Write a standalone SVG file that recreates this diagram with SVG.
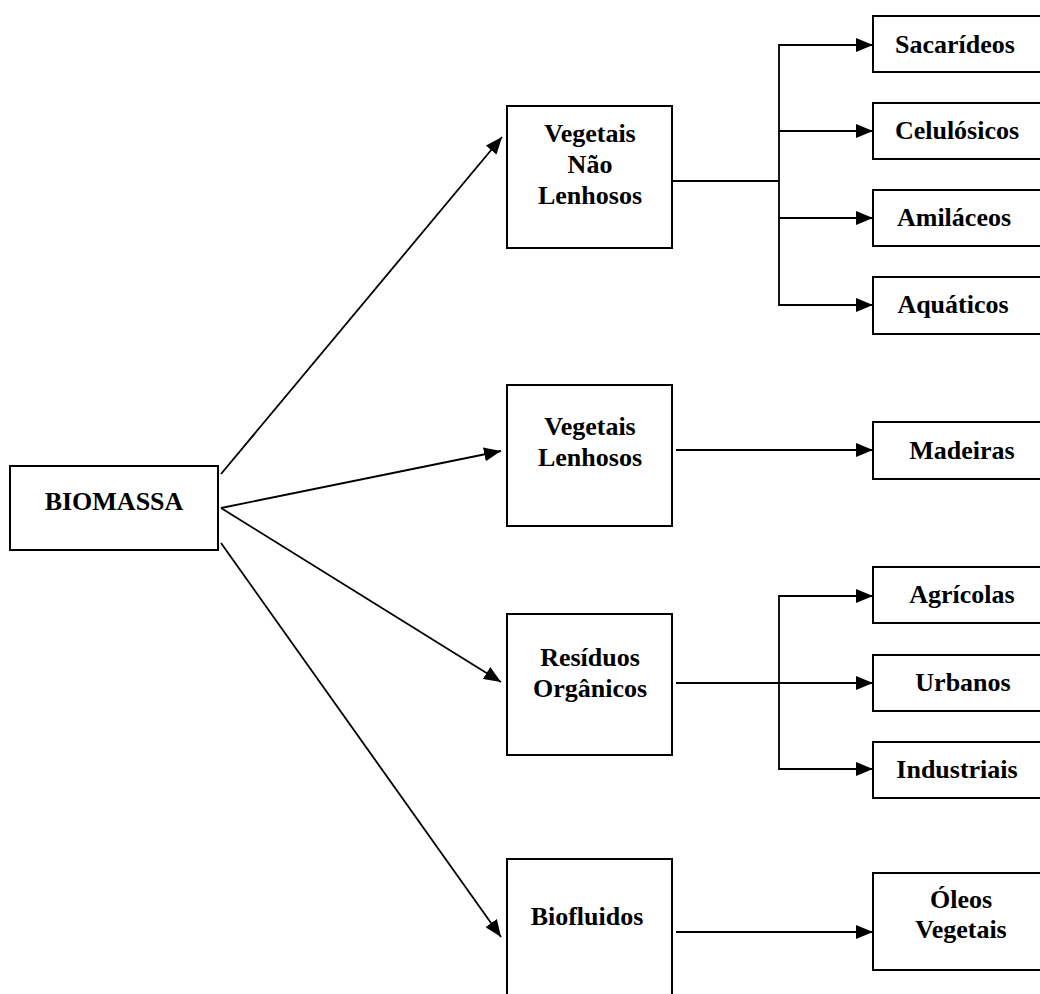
<svg xmlns="http://www.w3.org/2000/svg" width="1040" height="994" viewBox="0 0 1040 994">
<style>
.box{fill:#fff;stroke:#000;stroke-width:2}
.t{font-family:"Liberation Serif","Times New Roman",serif;font-weight:bold;font-size:26px;fill:#000;text-anchor:middle}
.ln{fill:none;stroke:#000;stroke-width:1.8}
.ar{fill:none;stroke:#000;stroke-width:1.8;marker-end:url(#ah)}
</style>
<defs>
<marker id="ah" viewBox="0 0 17 14" refX="17" refY="7" markerWidth="17" markerHeight="14" markerUnits="userSpaceOnUse" orient="auto">
<path d="M0,0 L17,7 L0,14 Z" fill="#000"/>
</marker>
</defs>
<rect width="1040" height="994" fill="#fff"/>
<g id="connectors">
<line class="ar" x1="221" y1="474" x2="502" y2="137"/>
<line class="ar" x1="221" y1="508" x2="501" y2="451"/>
<line class="ar" x1="221" y1="508" x2="501" y2="682"/>
<line class="ar" x1="221" y1="543" x2="501" y2="937"/>
<line class="ln" x1="672" y1="181" x2="779" y2="181"/>
<polyline class="ln" points="873,45 779,45 779,305 873,305"/>
<line class="ar" x1="779" y1="45" x2="873" y2="45"/>
<line class="ar" x1="779" y1="131" x2="873" y2="131"/>
<line class="ar" x1="779" y1="218" x2="873" y2="218"/>
<line class="ar" x1="779" y1="305" x2="873" y2="305"/>
<line class="ar" x1="676" y1="450" x2="873" y2="450"/>
<line class="ar" x1="676" y1="683" x2="873" y2="683"/>
<polyline class="ln" points="873,596 779,596 779,769 873,769"/>
<line class="ar" x1="779" y1="596" x2="873" y2="596"/>
<line class="ar" x1="779" y1="769" x2="873" y2="769"/>
<line class="ar" x1="676" y1="932" x2="873" y2="932"/>
</g>
<g id="biomassa"><rect class="box" x="10" y="466" width="208" height="84"/><text class="t" x="114" y="510">BIOMASSA</text></g>
<g id="vnl"><rect class="box" x="507" y="106" width="165" height="142"/><text class="t" x="590" y="142">Vegetais</text><text class="t" x="590" y="173">Não</text><text class="t" x="590" y="204">Lenhosos</text></g>
<g id="vl"><rect class="box" x="507" y="385" width="165" height="141"/><text class="t" x="590" y="435">Vegetais</text><text class="t" x="590" y="466">Lenhosos</text></g>
<g id="ro"><rect class="box" x="507" y="614" width="165" height="141"/><text class="t" x="590" y="666">Resíduos</text><text class="t" x="590" y="697">Orgânicos</text></g>
<g id="bf"><rect class="box" x="507" y="859" width="165" height="150"/><text class="t" x="587" y="925">Biofluidos</text></g>
<g id="sac"><rect class="box" x="873" y="16" width="172" height="56"/><text class="t" x="955" y="53">Sacarídeos</text></g>
<g id="cel"><rect class="box" x="873" y="103" width="172" height="56"/><text class="t" x="957" y="139">Celulósicos</text></g>
<g id="ami"><rect class="box" x="873" y="190" width="172" height="56"/><text class="t" x="954" y="226">Amiláceos</text></g>
<g id="aqu"><rect class="box" x="873" y="277" width="172" height="57"/><text class="t" x="953" y="313">Aquáticos</text></g>
<g id="mad"><rect class="box" x="873" y="422" width="172" height="57"/><text class="t" x="962" y="459">Madeiras</text></g>
<g id="agr"><rect class="box" x="873" y="567" width="172" height="56"/><text class="t" x="962" y="603">Agrícolas</text></g>
<g id="urb"><rect class="box" x="873" y="655" width="172" height="56"/><text class="t" x="963" y="691">Urbanos</text></g>
<g id="ind"><rect class="box" x="873" y="742" width="172" height="56"/><text class="t" x="957" y="778">Industriais</text></g>
<g id="ole"><rect class="box" x="873" y="873" width="172" height="97"/><text class="t" x="961" y="908">Óleos</text><text class="t" x="961" y="938">Vegetais</text></g>
</svg>
